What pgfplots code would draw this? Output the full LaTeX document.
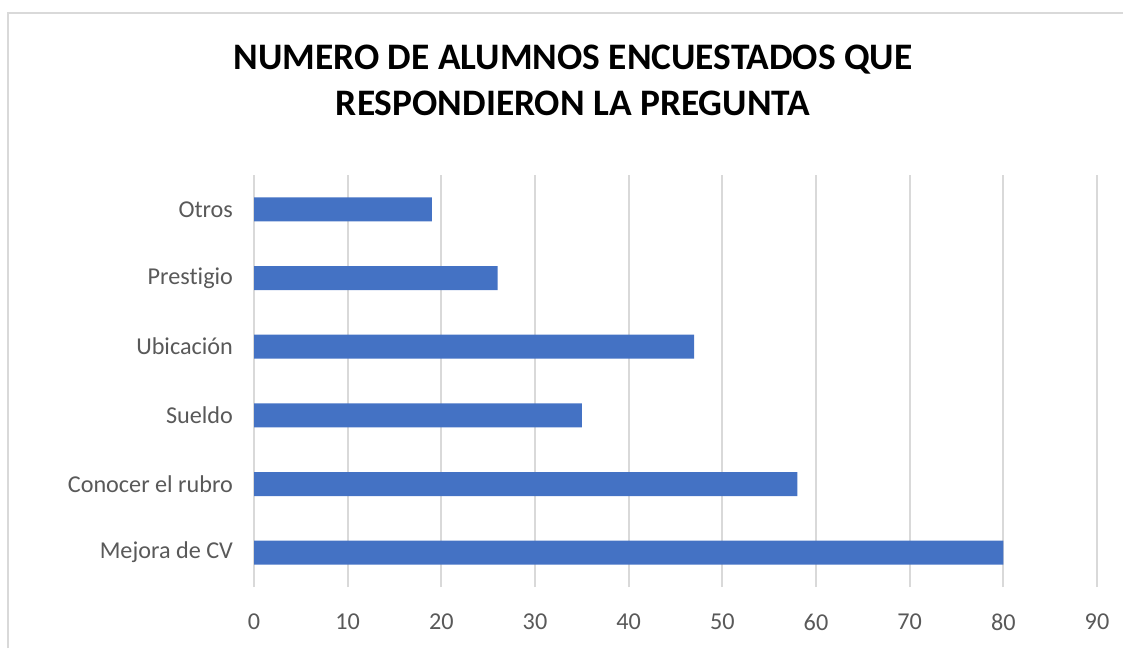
\documentclass[border=0pt]{standalone}
\usepackage{fontspec}
\setmainfont{Carlito}[Ligatures={NoCommon,NoContextual}]
\usepackage{pgfplots}
\pgfplotsset{compat=1.18}
\definecolor{barblue}{HTML}{4472C4}
\definecolor{gridgray}{HTML}{D9D9D9}
\definecolor{labelgray}{HTML}{595959}
\begin{document}
\begin{tikzpicture}
\path[use as bounding box] (0,0) rectangle (561.5pt,324pt);
% chart frame (right and bottom edges fall outside the crop)
\draw[gridgray, line width=1pt] (4pt,0) -- (4pt,317.5pt) -- (562pt,317.5pt);
\node[align=center, font=\fontsize{18.7}{23}\selectfont\bfseries, text=black]
  at (286.5pt,284pt) {NUMERO DE ALUMNOS ENCUESTADOS QUE\\RESPONDIERON LA PREGUNTA};
\begin{axis}[
    at={(127pt,30.5pt)}, anchor=south west,
    scale only axis,
    width=421.5pt, height=206pt,
    xbar, bar width=12pt,
    xmin=0, xmax=90,
    ymin=-0.5, ymax=5.5,
    xtick={0,10,...,90},
    ytick=data,
    yticklabels={Mejora de CV,Conocer el rubro,Sueldo,Ubicación,Prestigio,Otros},
    xmajorgrids, major grid style={gridgray, line width=0.9pt},
    axis line style={draw=none},
    major tick length=0pt,
    tick label style={font=\fontsize{12.1}{14}\selectfont, text=labelgray},
    xticklabel style={yshift=-10pt},
    yticklabel style={xshift=-7pt},
    /pgf/number format/assume math mode=true,
]
\addplot[fill=barblue, draw=none] coordinates {
    (80,0) (58,1) (35,2) (47,3) (26,4) (19,5)
};
\end{axis}
\end{tikzpicture}
\end{document}
